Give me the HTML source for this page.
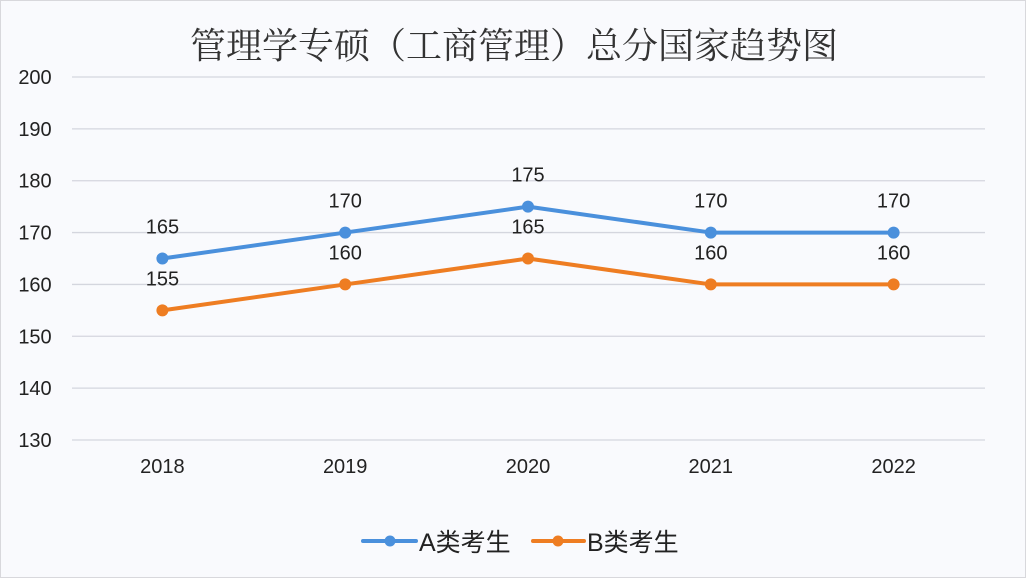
<!DOCTYPE html>
<html><head><meta charset="utf-8"><style>
html,body{margin:0;padding:0;background:#fff}
svg{display:block}
</style></head><body>
<svg width="1026" height="578" viewBox="0 0 1026 578" xmlns="http://www.w3.org/2000/svg">
<rect x="0.5" y="0.5" width="1025" height="577" fill="#f9fafd" stroke="#d8d8dc"/>
<text x="514" y="58" text-anchor="middle" font-family="'Liberation Serif','Noto Serif CJK SC',serif" font-size="36" fill="#333">管理学专硕（工商管理）总分国家趋势图</text>
<g id="grid"></g><g id="xl"></g><g id="series"></g>
<g>
<g>
<line x1="363" y1="541" x2="416" y2="541" stroke="#4a90dc" stroke-width="4" stroke-linecap="round"/>
<circle cx="390" cy="541" r="5.5" fill="#4a90dc"/>
<text x="419" y="551" font-family="'Liberation Sans','Noto Sans CJK SC',sans-serif" font-size="25" fill="#222">A类考生</text></g>
<g>
<line x1="533" y1="541" x2="584" y2="541" stroke="#ee7d22" stroke-width="4" stroke-linecap="round"/>
<circle cx="558" cy="541" r="5.5" fill="#ee7d22"/>
<text x="587" y="551" font-family="'Liberation Sans','Noto Sans CJK SC',sans-serif" font-size="25" fill="#222">B类考生</text></g>
</g>
</svg>
<script>
const categories=["2018","2019","2020","2021","2022"];
const seriesA=[165,170,175,170,170];
const seriesB=[155,160,165,160,160];
const yTicks=[130,140,150,160,170,180,190,200];
const NS="http://www.w3.org/2000/svg";
const x0=71,x1=985,yMin=130,yMax=200,yTop=77,yBot=440;
const xs=i=>x0+(i+0.5)*(x1-x0)/categories.length;
const ys=v=>yBot-(v-yMin)/(yMax-yMin)*(yBot-yTop);
function mk(t,a,p){const e=document.createElementNS(NS,t);for(const k in a)e.setAttribute(k,a[k]);p.appendChild(e);return e;}
const F="'Liberation Sans','Noto Sans CJK SC',sans-serif";
const grid=document.getElementById('grid');
yTicks.forEach(v=>{
 const l=mk('line',{x1:x0+1,x2:x1,y1:ys(v),y2:ys(v),stroke:'#d4d6de','stroke-width':1.3},grid);
 
 
 const t=mk('text',{x:35,y:ys(v)+7,'text-anchor':'middle','font-family':F,'font-size':20,fill:'#222'},grid);
 t.textContent=v;
 
 
});
const xl=document.getElementById('xl');
categories.forEach((c,i)=>{
 const t=mk('text',{x:xs(i),y:473,'text-anchor':'middle','font-family':F,'font-size':20,fill:'#222'},xl);
 t.textContent=c;
 
 
});
const sg=document.getElementById('series');
[[seriesA,'#4a90dc','a',-25],[seriesB,'#ee7d22','b',-25]].forEach(([d,col,n,off])=>{
 const pl=mk('polyline',{points:d.map((v,i)=>xs(i)+','+ys(v)).join(' '),fill:'none',stroke:col,'stroke-width':4,'stroke-linejoin':'round'},sg);
 
 
 d.forEach((v,i)=>{
  const c=mk('circle',{cx:xs(i),cy:ys(v),r:6,fill:col},sg);
  
  
  const t=mk('text',{x:xs(i),y:ys(v)+off,'text-anchor':'middle','font-family':F,'font-size':20,fill:'#222'},sg);
  t.textContent=v;
  
  
 });
});
</script>
</body></html>
